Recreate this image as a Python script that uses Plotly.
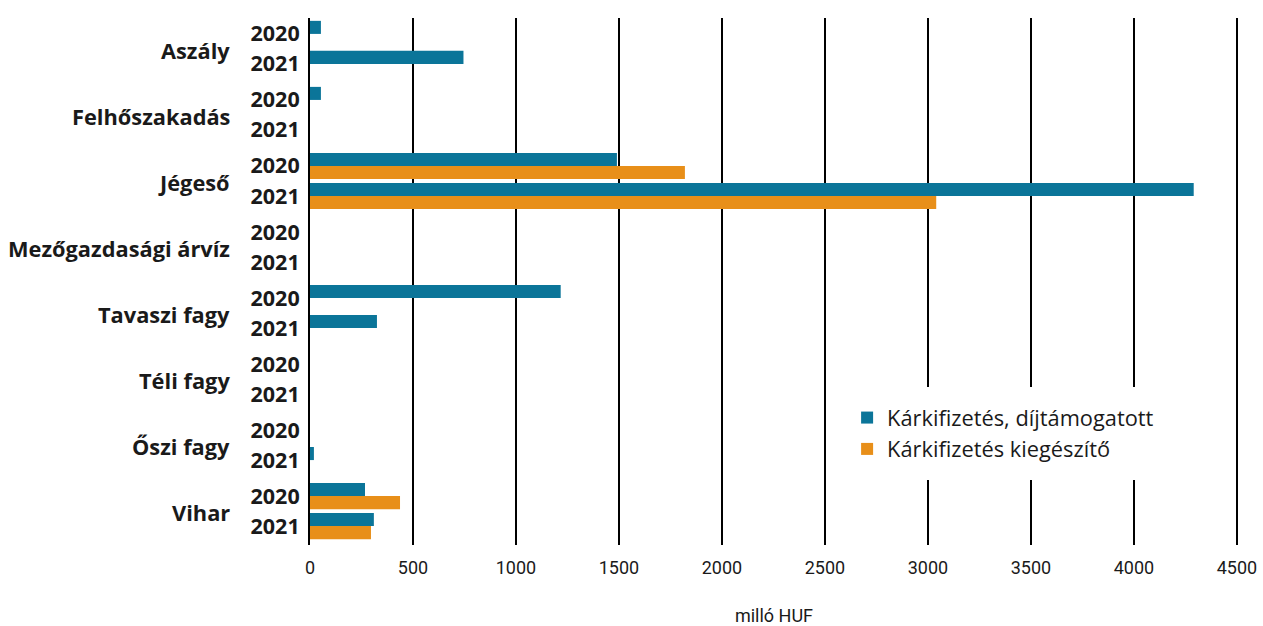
import plotly.graph_objects as go

categories = ["Aszály", "Felhőszakadás", "Jégeső", "Mezőgazdasági árvíz",
              "Tavaszi fagy", "Téli fagy", "Őszi fagy", "Vihar"]
years = ["2020", "2021"]

# values in million HUF, order: (cat, 2020), (cat, 2021)
dijtamogatott = [53, 745, 53, 0, 1490, 4290, 0, 0,
                 1217, 325, 0, 0, 0, 19, 267, 310]
kiegeszito = [0, 0, 0, 0, 1820, 3040, 0, 0,
              0, 0, 0, 0, 0, 0, 437, 296]

BLUE = "#0b7599"
ORANGE = "#e88f19"
GROUP_STEP = 2.2
SANS = 'Open Sans, Noto Sans, sans-serif'
NARROW = 'Liberation Sans Narrow, Roboto, sans-serif'

# row positions: years within a category one unit apart, categories spaced out
ypos = [g * GROUP_STEP + k for g in range(len(categories)) for k in range(len(years))]
ylab = [y for _ in categories for y in years]

fig = go.Figure()
fig.add_trace(go.Bar(x=dijtamogatott, y=ypos, orientation='h', name="Kárkifizetés, díjtámogatott",
                     marker=dict(color=BLUE, line=dict(width=0))))
fig.add_trace(go.Bar(x=kiegeszito, y=ypos, orientation='h', name="Kárkifizetés kiegészítő",
                     marker=dict(color=ORANGE, line=dict(width=0))))

for g, c in enumerate(categories):
    fig.add_annotation(x=0, xref='paper', y=g * GROUP_STEP + 0.55, yref='y',
                       text=f"<b>{c}</b>", showarrow=False, xanchor='right',
                       xshift=-78, font=dict(size=21.8, color='#1a1a1a', family=SANS))

fig.update_layout(
    width=1263, height=626,
    barmode='group', bargap=0.13, bargroupgap=0,
    margin=dict(l=310, r=25, t=18, b=81),
    plot_bgcolor='white', paper_bgcolor='white',
    font=dict(family=SANS, size=17, color='#1a1a1a'),
    xaxis=dict(range=[0, 4505], dtick=500, showgrid=True, gridcolor='black', gridwidth=2,
               zeroline=False, showline=False, ticks='', automargin=False,
               ticklabelstandoff=10, ticklabeloverflow='allow',
               tickfont=dict(size=18, family=NARROW),
               title=dict(text='milló HUF', standoff=43, font=dict(size=18, family=NARROW))),
    yaxis=dict(range=[len(categories) * GROUP_STEP - 0.57, -0.53], tickmode='array',
               tickvals=ypos, ticktext=[f"<b>{t}</b>" for t in ylab], automargin=False,
               showgrid=False, zeroline=False, showline=True, linecolor='black', linewidth=2,
               ticks='', ticklabelstandoff=4, tickfont=dict(size=21.5, family=SANS)),
    legend=dict(x=0.568, y=0.30, xanchor='left', yanchor='top', bgcolor='white',
                font=dict(size=21.8, family=SANS), traceorder='normal', itemwidth=30,
                borderwidth=10, bordercolor='white'),
)

# drop the default 8px page margin so the figure fills the window exactly
fig.write_html("out.html", config={'displayModeBar': False},
               post_script="document.body.style.margin='0';")
